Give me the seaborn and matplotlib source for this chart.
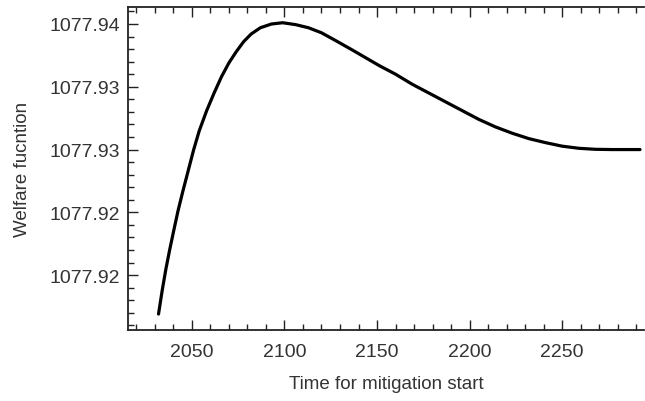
import matplotlib
matplotlib.use("Agg")
import matplotlib.pyplot as plt
import seaborn as sns
import pandas as pd
from matplotlib.ticker import MultipleLocator

# Data
years = [2032, 2034, 2036, 2038, 2040, 2042.5, 2045, 2048, 2051, 2054, 2058, 2062,
         2066, 2070, 2074, 2078, 2082, 2087, 2093, 2099, 2106, 2113, 2120, 2128,
         2137, 2144, 2151, 2160, 2169, 2178, 2187, 2196, 2205, 2214, 2223, 2232,
         2241, 2250, 2259, 2268, 2277, 2285, 2292]
welfare = [1077.9169, 1077.9188, 1077.9205, 1077.9220, 1077.9234, 1077.9251, 1077.9266,
           1077.9283, 1077.9300, 1077.9315, 1077.9331, 1077.9345, 1077.9358, 1077.9369,
           1077.9378, 1077.9386, 1077.9392, 1077.9397, 1077.9400, 1077.9401, 1077.93995,
           1077.93970, 1077.93930, 1077.93865, 1077.9379, 1077.9373, 1077.9367, 1077.9360,
           1077.9352, 1077.9345, 1077.9338, 1077.9331, 1077.9324, 1077.9318, 1077.9313,
           1077.93087, 1077.93055, 1077.93027, 1077.9301, 1077.93002, 1077.9300, 1077.9300,
           1077.9300]
x_ticks = [2050, 2100, 2150, 2200, 2250]
y_ticks = [1077.920, 1077.925, 1077.930, 1077.935, 1077.940]
y_tick_labels = ["1077.92", "1077.92", "1077.93", "1077.93", "1077.94"]
x_label = "Time for mitigation start"
y_label = "Welfare fucntion"

df = pd.DataFrame({"year": years, "welfare": welfare})

sns.set_style("ticks")
plt.rcParams["font.family"] = ["Liberation Sans", "DejaVu Sans"]

fig = plt.figure(figsize=(6.45, 4.02), dpi=100)
ax = fig.add_axes([0.1984, 0.1766, 0.7996, 0.8034])

sns.lineplot(data=df, x="year", y="welfare", ax=ax, color="black", linewidth=2.3,
             solid_capstyle="round", solid_joinstyle="round")

ax.set_xlim(2015.5, 2294)
ax.set_ylim(1077.91563, 1077.94135)
ax.set_xticks(x_ticks)
ax.set_xticklabels([str(v) for v in x_ticks])
ax.set_yticks(y_ticks)
ax.set_yticklabels(y_tick_labels)
ax.xaxis.set_minor_locator(MultipleLocator(10))
ax.yaxis.set_minor_locator(MultipleLocator(0.001))

ax.tick_params(which="both", direction="in", top=True, right=False,
               colors="#222222", labelcolor="#333333", labelsize=14, width=1.0)
ax.tick_params(which="major", length=7)
ax.tick_params(which="minor", length=4)
ax.tick_params(axis="x", pad=9)
ax.tick_params(axis="y", pad=6)

for s in ["left", "bottom", "top"]:
    ax.spines[s].set_color("#222222")
    ax.spines[s].set_linewidth(1.3)
ax.spines["right"].set_visible(False)

ax.set_xlabel(x_label, fontsize=13.5, color="#333333", labelpad=11)
ax.set_ylabel(y_label, fontsize=13.5, color="#333333", labelpad=13)

fig.savefig("out.png", dpi=100, facecolor="white")
